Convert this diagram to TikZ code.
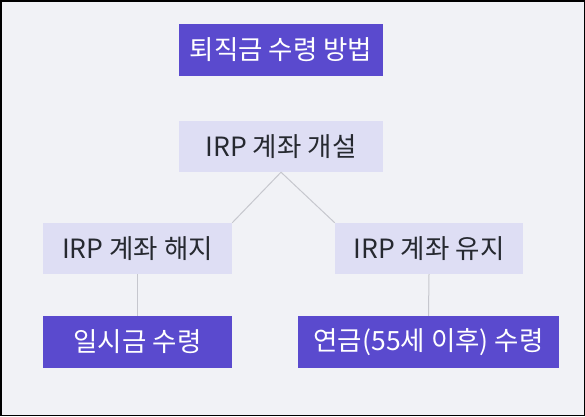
\documentclass[tikz,border=0pt]{standalone}
\usepackage{fontspec}
\setmainfont{Noto Sans CJK KR}
\usetikzlibrary{positioning}
\definecolor{bgcol}{RGB}{241,242,246}
\definecolor{darkbox}{RGB}{90,74,206}
\definecolor{lightbox}{RGB}{222,222,244}
\definecolor{textcol}{RGB}{38,41,48}
\definecolor{linecol}{RGB}{198,199,206}
\begin{document}
\begin{tikzpicture}[
    x=1pt, y=-1pt,
    result/.style={rectangle, fill=darkbox, text=white, minimum height=52pt, inner sep=0pt, font=\fontsize{26.5}{30}\selectfont},
    stage/.style={rectangle, fill=lightbox, text=textcol, minimum height=51pt, inner sep=0pt, font=\fontsize{26.5}{30}\selectfont},
    link/.style={draw=linecol, line width=1pt}
]

% Background and frame
\draw[fill=bgcol, draw=black, line width=1.5pt] (0.75,0.75) rectangle (584.25,415.25);

% Title
\node[result, minimum width=204pt] (title) at (281,50) {퇴직금 수령 방법};

% Opening the account
\node[stage, minimum width=204pt] (irp-open) at (281,146.5) {IRP 계좌 개설};

% Two choices
\node[stage, minimum width=189pt] (irp-cancel) at (137.5,248.5) {IRP 계좌 해지};
\node[stage, minimum width=188pt] (irp-keep) at (429,248.5) {IRP 계좌 유지};

% Outcomes
\node[result, minimum width=189pt] (lump-sum) at (137.5,342) {일시금 수령};
\node[result, minimum width=261pt] (annuity) at (428.5,342) {연금(55세 이후) 수령};

% Connections
\draw[link] (irp-open.south) -- (irp-cancel.north east);
\draw[link] (irp-open.south) -- (irp-keep.north west);
\draw[link] (irp-cancel.south) -- (lump-sum.north);
\draw[link] (irp-keep.south) -- (annuity.north);

\end{tikzpicture}
\end{document}
